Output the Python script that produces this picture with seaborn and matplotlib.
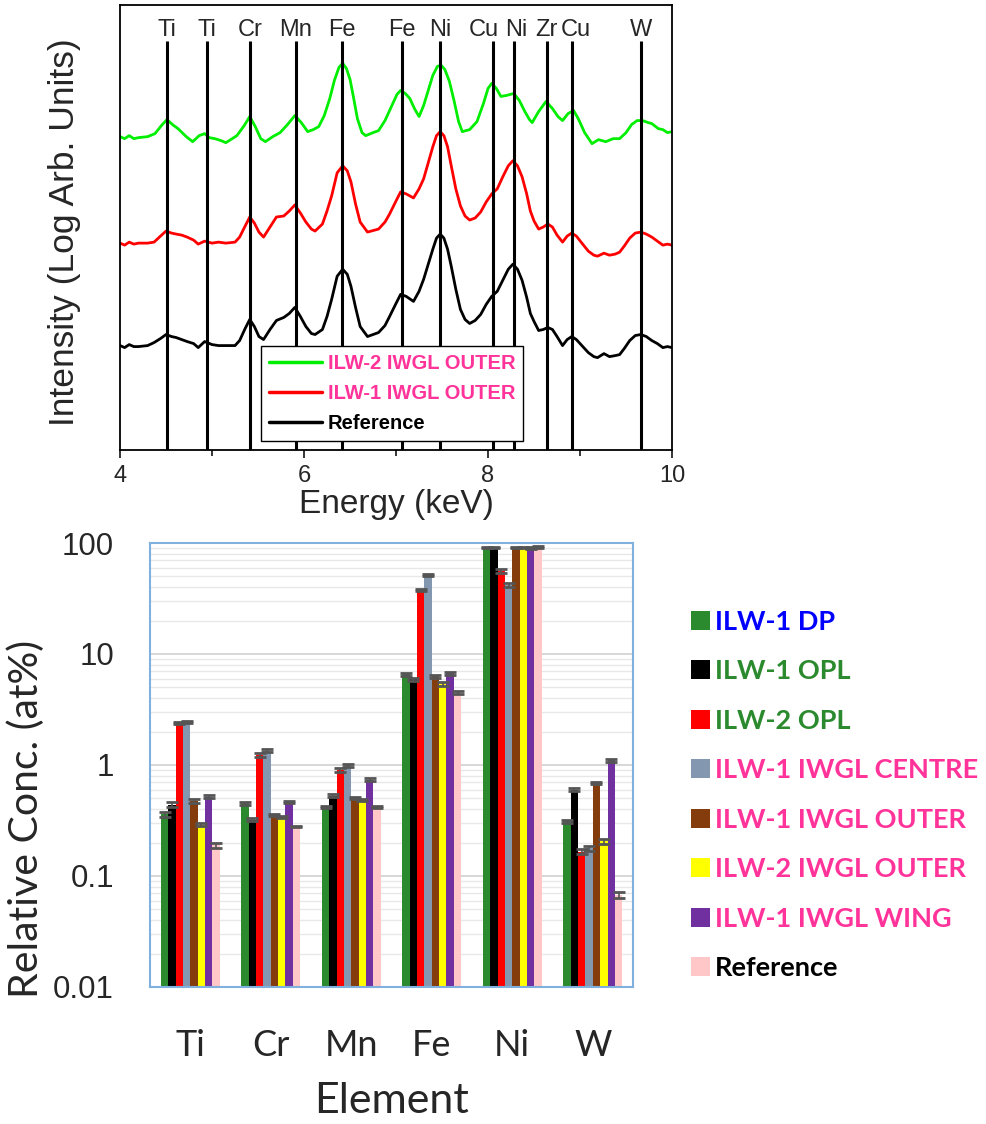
import numpy as np
import pandas as pd
import matplotlib
matplotlib.use("Agg")
import matplotlib.pyplot as plt
from matplotlib.patches import Patch
from matplotlib.ticker import LogLocator, NullFormatter, FixedLocator
import seaborn as sns

sns.set_style("ticks")
plt.rcParams['font.family'] = ['Liberation Sans', 'DejaVu Sans']

# ---- spectra (arbitrary log units) ----
green_e = [4.00, 4.05, 4.10, 4.15, 4.20, 4.30, 4.38, 4.45, 4.51, 4.57, 4.63, 4.72, 4.79, 4.86,
           4.92, 4.97, 5.03, 5.10, 5.15, 5.22, 5.27, 5.35, 5.41, 5.47, 5.53, 5.58, 5.66, 5.74,
           5.82, 5.90, 5.97, 6.04, 6.10, 6.16, 6.22, 6.28, 6.33, 6.38, 6.42, 6.46, 6.50, 6.54,
           6.58, 6.63, 6.67, 6.75, 6.81, 6.88, 6.95, 7.01, 7.05, 7.10, 7.15, 7.20, 7.25, 7.30,
           7.35, 7.40, 7.45, 7.49, 7.53, 7.58, 7.63, 7.68, 7.72, 7.80, 7.88, 7.95, 8.00, 8.04,
           8.09, 8.14, 8.20, 8.28, 8.34, 8.40, 8.45, 8.48, 8.55, 8.63, 8.70, 8.76, 8.81, 8.87,
           8.93, 8.98, 9.05, 9.13, 9.20, 9.28, 9.36, 9.43, 9.50, 9.56, 9.62, 9.68, 9.74, 9.78,
           9.85, 9.90, 9.95, 10.00]
green_i = [31.2, 31.0, 31.3, 31.0, 31.1, 31.2, 31.5, 32.3, 32.9, 32.4, 32.0, 31.2, 30.7, 31.3,
           31.5, 31.1, 31.0, 30.8, 30.6, 31.0, 31.3, 32.3, 33.2, 32.2, 31.0, 30.7, 31.2, 31.6,
           32.4, 33.3, 32.6, 31.7, 31.9, 32.2, 33.3, 35.0, 36.8, 38.1, 38.5, 38.0, 36.9, 35.0,
           33.0, 31.6, 31.3, 31.6, 31.8, 32.8, 34.2, 35.4, 35.8, 35.5, 35.0, 34.0, 33.2, 34.3,
           35.8, 37.3, 38.2, 38.3, 37.9, 36.7, 34.8, 32.7, 31.7, 31.9, 32.7, 34.5, 36.0, 36.5,
           36.0, 35.2, 35.3, 35.5, 34.8, 33.7, 32.9, 32.6, 33.7, 34.7, 34.0, 33.2, 32.8, 33.5,
           33.8, 33.0, 31.6, 30.5, 30.9, 30.7, 31.0, 31.0, 31.6, 32.4, 32.8, 32.8, 32.6, 32.5,
           32.0, 31.9, 31.6, 31.7]

rb_e = [4.00, 4.05, 4.10, 4.15, 4.20, 4.30, 4.37, 4.44, 4.50, 4.56, 4.61, 4.67, 4.73, 4.80,
        4.85, 4.92, 5.00, 5.07, 5.15, 5.25, 5.30, 5.36, 5.41, 5.46, 5.51, 5.56, 5.63, 5.70,
        5.78, 5.84, 5.90, 5.96, 6.02, 6.08, 6.12, 6.20, 6.25, 6.30, 6.36, 6.42, 6.47, 6.51,
        6.56, 6.61, 6.69, 6.81, 6.88, 6.93, 7.00, 7.05, 7.11, 7.19, 7.25, 7.30, 7.35, 7.40,
        7.44, 7.48, 7.52, 7.56, 7.60, 7.65, 7.70, 7.75, 7.80, 7.86, 7.92, 7.98, 8.04, 8.10,
        8.16, 8.22, 8.27, 8.32, 8.37, 8.42, 8.46, 8.50, 8.55, 8.60, 8.65, 8.70, 8.75, 8.81,
        8.86, 8.91, 8.96, 9.02, 9.09, 9.15, 9.19, 9.26, 9.32, 9.38, 9.43, 9.48, 9.54, 9.60,
        9.66, 9.72, 9.78, 9.84, 9.90, 9.95, 10.00]
red_i = [20.6, 20.4, 20.7, 20.5, 20.6, 20.6, 20.7, 21.3, 21.8, 21.6, 21.5, 21.4, 21.2, 20.9,
         20.5, 20.8, 20.6, 20.7, 20.6, 20.7, 21.2, 22.3, 23.2, 22.6, 21.7, 21.2, 22.2, 23.2,
         23.3, 23.8, 24.4, 23.6, 22.7, 22.0, 21.8, 22.5, 23.8, 25.3, 27.6, 28.3, 27.8, 26.7,
         24.5, 22.7, 21.7, 22.0, 22.7, 23.5, 24.8, 25.7, 25.5, 25.1, 26.0, 27.0, 28.6, 30.2,
         31.3, 31.7, 31.3, 30.2, 28.3, 26.0, 24.3, 23.3, 22.9, 23.1, 23.7, 24.7, 25.5, 26.0,
         27.2, 28.3, 28.8, 28.3, 27.2, 25.5, 23.8, 22.8, 22.0, 22.2, 22.5, 22.2, 21.4, 20.7,
         21.3, 21.6, 21.3, 20.6, 19.8, 19.4, 19.3, 19.6, 19.4, 19.5, 19.7, 20.3, 21.1, 21.6,
         21.7, 21.5, 21.2, 20.8, 20.4, 20.5, 20.4]
black_i = [10.4, 10.2, 10.5, 10.3, 10.3, 10.4, 10.7, 11.1, 11.5, 11.3, 11.2, 11.0, 10.8, 10.6,
           10.2, 10.8, 10.5, 10.4, 10.4, 10.4, 10.9, 12.1, 13.0, 12.3, 11.3, 11.0, 12.0, 12.9,
           13.2, 13.6, 14.2, 13.3, 12.3, 11.6, 11.5, 12.0, 13.3, 15.0, 17.3, 18.0, 17.5, 16.3,
           14.2, 12.3, 11.3, 11.7, 12.4, 13.3, 14.6, 15.5, 15.3, 14.8, 15.8, 17.0, 18.5, 20.0,
           21.1, 21.5, 21.1, 20.0, 18.3, 16.0, 14.0, 13.0, 12.6, 12.9, 13.5, 14.5, 15.3, 15.8,
           16.9, 18.0, 18.5, 18.0, 16.9, 15.2, 13.6, 12.8, 11.9, 12.0, 12.2, 12.0, 11.3, 10.4,
           11.0, 11.3, 11.0, 10.4, 9.7, 9.3, 9.2, 9.6, 9.3, 9.4, 9.5, 10.1, 10.9, 11.4,
           11.5, 11.3, 10.9, 10.6, 10.2, 10.3, 10.2]

line_names = ["Ti", "Ti", "Cr", "Mn", "Fe", "Fe", "Ni", "Cu", "Ni", "Zr", "Cu", "W"]
line_energy = [4.51, 4.94, 5.41, 5.91, 6.41, 7.06, 7.48, 8.05, 8.28, 8.64, 8.91, 9.66]

# ---- relative concentrations (at%) ----
elements = ["Ti", "Cr", "Mn", "Fe", "Ni", "W"]
series = ["ILW-1 DP", "ILW-1 OPL", "ILW-2 OPL", "ILW-1 IWGL CENTRE",
          "ILW-1 IWGL OUTER", "ILW-2 IWGL OUTER", "ILW-1 IWGL WING", "Reference"]
dp = [0.36, 0.45, 0.42, 6.6, 91, 0.31]
opl1 = [0.44, 0.32, 0.53, 5.9, 91, 0.60]
opl2 = [2.40, 1.23, 0.90, 37.7, 56, 0.166]
centre = [2.45, 1.35, 0.99, 51.5, 42, 0.178]
outer1 = [0.47, 0.355, 0.50, 6.3, 91, 0.69]
outer2 = [0.29, 0.34, 0.48, 5.4, 91, 0.205]
wing = [0.52, 0.46, 0.74, 6.7, 90, 1.10]
ref = [0.19, 0.28, 0.42, 4.5, 92, 0.068]
dp_err = [0.02, 0.01, 0.01, 0.2, 1.5, 0.01]
opl1_err = [0.02, 0.01, 0.02, 0.2, 1.5, 0.02]
opl2_err = [0.06, 0.04, 0.03, 1.0, 2.0, 0.008]
centre_err = [0.06, 0.05, 0.03, 1.5, 1.5, 0.01]
outer1_err = [0.02, 0.01, 0.01, 0.2, 1.5, 0.02]
outer2_err = [0.01, 0.01, 0.01, 0.2, 1.5, 0.01]
wing_err = [0.02, 0.01, 0.02, 0.2, 1.5, 0.03]
ref_err = [0.01, 0.005, 0.01, 0.1, 1.5, 0.004]

bar_colors = ["#2B8A2E", "#000000", "#FF0000", "#8497B0", "#843C0C", "#FFFF00", "#7030A0", "#FFC7C7"]
label_colors = ["#0000FF", "#2B8A2E", "#2B8A2E", "#FF3399", "#FF3399", "#FF3399", "#FF3399", "#000000"]

fig = plt.figure(figsize=(9.87, 11.24), dpi=100)

# ================= top: spectra =================
ax1 = fig.add_axes([0.1216, 0.5996, 0.5593, 0.3959])
for e, i, c, name in [(green_e, green_i, "#00EE00", "ILW-2 IWGL OUTER"),
                      (rb_e, red_i, "#FF0000", "ILW-1 IWGL OUTER"),
                      (rb_e, black_i, "#000000", "Reference")]:
    sns.lineplot(x=e, y=i, color=c, lw=2.0, sort=False, estimator=None, label=name, ax=ax1)

ax1.vlines(line_energy, 0, 40.7, colors="black", lw=2.2, zorder=3)
# small horizontal nudges (points) so the crowded labels do not collide
label_dx = [0, 0, 0, 0, 0, 0, 0, -6, 2, 0, 3, 0]
for name, e, dx in zip(line_names, line_energy, label_dx):
    ax1.annotate(name, (e, 41.8), xytext=(dx, 0), textcoords="offset points",
                 ha="center", va="center", fontsize=17)

ax1.set_xlim(4, 10)
ax1.set_ylim(0, 44.3)
ax1.set_yticks([])
ax1.xaxis.set_major_locator(FixedLocator([4, 6, 8, 10]))
ax1.xaxis.set_minor_locator(FixedLocator([5, 7, 9]))
ax1.tick_params(axis="x", which="major", direction="out", length=6, width=1.3, labelsize=17, pad=5)
ax1.tick_params(axis="x", which="minor", direction="out", length=4, width=1.3)
for s in ax1.spines.values():
    s.set_linewidth(1.3)
    s.set_color("black")
ax1.set_xlabel("Energy (keV)", fontsize=24, labelpad=1)
ax1.set_ylabel("Intensity (Log Arb. Units)", fontsize=25.5)
ax1.yaxis.set_label_coords(-0.07, 0.489)

leg1 = ax1.legend(loc="lower left", bbox_to_anchor=(0.256, 0.02), borderaxespad=0,
                  frameon=True, fancybox=False, edgecolor="black", framealpha=1,
                  handlelength=2.6, handletextpad=0.3, borderpad=0.4,
                  prop={"weight": "bold", "size": 14.5}, labelspacing=0.55,
                  labelcolor=["#FF3399", "#FF3399", "#000000"])
leg1.get_frame().set_linewidth(1.0)
for line in leg1.get_lines():
    line.set_linewidth(2.5)

# ================= bottom: bar chart =================
ax2 = fig.add_axes([0.152, 0.1219, 0.4894, 0.395])
values = [dp, opl1, opl2, centre, outer1, outer2, wing, ref]
errors = [dp_err, opl1_err, opl2_err, centre_err, outer1_err, outer2_err, wing_err, ref_err]
df = pd.DataFrame({
    "Element": elements * len(series),
    "Series": [s for s in series for _ in elements],
    "Conc": [v for vals in values for v in vals],
})
sns.barplot(data=df, x="Element", y="Conc", hue="Series", hue_order=series, palette=bar_colors,
            width=0.73, errorbar=None, saturation=1, legend=False, linewidth=0, ax=ax2)

for cont, err in zip(ax2.containers, errors):
    xs = [b.get_x() + b.get_width() / 2 for b in cont]
    ys = [b.get_height() for b in cont]
    ax2.errorbar(xs, ys, yerr=err, fmt="none", ecolor="#555555", elinewidth=1.2,
                 capsize=4, capthick=2, zorder=4)

ax2.set_yscale("log")
ax2.set_ylim(0.01, 100)
ax2.set_xlim(-0.5, 5.5)
ax2.yaxis.set_minor_locator(LogLocator(base=10, subs=np.arange(2, 10), numticks=20))
ax2.yaxis.set_minor_formatter(NullFormatter())
ax2.set_yticks([0.01, 0.1, 1, 10, 100])
ax2.set_yticklabels(["0.01", "0.1", "1", "10", "100"])
ax2.grid(True, which="major", axis="y", color="#D4D4D4", lw=1.3)
ax2.grid(True, which="minor", axis="y", color="#E8E8E8", lw=1.0)
ax2.set_axisbelow(True)
for s in ax2.spines.values():
    s.set_color("#7FB0DE")
    s.set_linewidth(1.5)
ax2.tick_params(axis="y", which="both", length=0, labelsize=22.5, pad=26)
ax2.tick_params(axis="x", length=0, pad=30)
for t in ax2.get_xticklabels():
    t.set_fontfamily("Lato")
    t.set_fontsize(26)
ax2.set_xlabel("Element", fontfamily="Lato", fontsize=31)
ax2.xaxis.set_label_coords(0.5, -0.213)
ax2.set_ylabel("Relative Conc. (at%)", fontfamily="Lato", fontsize=29.5)
ax2.yaxis.set_label_coords(-0.217, 0.378)

handles = [Patch(facecolor=c, edgecolor="none") for c in bar_colors]
fig.legend(handles, series, loc="upper left", bbox_to_anchor=(0.675, 0.479), frameon=False,
           labelcolor=label_colors, prop={"family": "Lato", "weight": "bold", "size": 19.5},
           handlelength=0.7, handleheight=0.7, handletextpad=0.2, labelspacing=0.94)

fig.savefig("out.png", dpi=100)
